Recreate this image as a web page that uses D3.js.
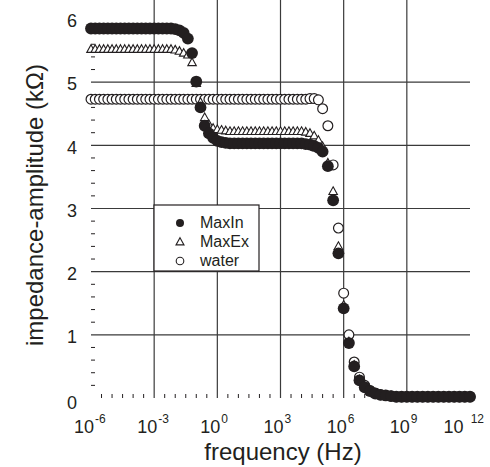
<!DOCTYPE html>
<html>
<head>
<meta charset="utf-8">
<script src="https://cdn.jsdelivr.net/npm/d3@7"></script>
<style>
  body { margin: 0; background: #fff; }
  text { font-family: "Liberation Sans", Arial, sans-serif; fill: #231f20; }
</style>
</head>
<body>
<div id="chart"></div>
<script>
// log10 of frequency (Hz) for every sample
var freqExp = [
  -6.0, -5.8, -5.6, -5.4, -5.2, -5.0, -4.8, -4.6, -4.4, -4.2,
  -4.0, -3.8, -3.6, -3.4, -3.2, -3.0, -2.8, -2.6, -2.4, -2.2,
  -2.0, -1.8, -1.6, -1.4, -1.2, -1.0, -0.8, -0.6, -0.4, -0.2,
   0.0,  0.2,  0.4,  0.6,  0.8,  1.0,  1.2,  1.4,  1.6,  1.8,
   2.0,  2.2,  2.4,  2.6,  2.8,  3.0,  3.2,  3.4,  3.6,  3.8,
   4.0,  4.2,  4.4,  4.6,  4.8,
   5.0,  5.25, 5.5,  5.75, 6.0,  6.25, 6.5,  6.75, 7.0,  7.25,
   7.5,  7.75, 8.0,  8.25, 8.5,  8.75, 9.0,  9.25, 9.5,  9.75,
  10.0, 10.25, 10.5, 10.75, 11.0, 11.25, 11.5, 11.75, 12.0
];

// impedance amplitude (kOhm)
var maxIn = [
  5.85, 5.85, 5.85, 5.85, 5.85, 5.85, 5.85, 5.85, 5.85, 5.85,
  5.85, 5.85, 5.85, 5.85, 5.85, 5.85, 5.85, 5.85, 5.85, 5.85,
  5.84, 5.82, 5.78, 5.69, 5.46, 5.01, 4.60, 4.31, 4.19, 4.12,
  4.07, 4.05, 4.04, 4.03, 4.03, 4.03, 4.03, 4.03, 4.03, 4.03,
  4.03, 4.03, 4.03, 4.03, 4.03, 4.03, 4.03, 4.03, 4.03, 4.03,
  4.03, 4.02, 4.01, 3.99, 3.96,
  3.90, 3.67, 3.13, 2.29, 1.42, 0.87, 0.50, 0.28, 0.17, 0.11,
  0.07, 0.05, 0.04, 0.03, 0.02, 0.02, 0.02, 0.02, 0.02, 0.02,
  0.02, 0.02, 0.02, 0.02, 0.02, 0.02, 0.02, 0.02, 0.02
];

var maxEx = [
  5.52, 5.52, 5.52, 5.52, 5.52, 5.52, 5.52, 5.52, 5.52, 5.52,
  5.52, 5.52, 5.52, 5.52, 5.52, 5.52, 5.52, 5.52, 5.52, 5.52,
  5.51, 5.49, 5.46, 5.43, 5.31, 4.98, 4.68, 4.44, 4.33, 4.27,
  4.25, 4.24, 4.23, 4.22, 4.22, 4.22, 4.22, 4.22, 4.22, 4.22,
  4.22, 4.22, 4.22, 4.22, 4.22, 4.22, 4.22, 4.22, 4.22, 4.22,
  4.22, 4.21, 4.19, 4.15, 4.08,
  3.98, 3.72, 3.27, 2.40, 1.47, 0.89, 0.52, 0.29, 0.18, 0.11,
  0.07, 0.05, 0.04, 0.03, 0.02, 0.02, 0.02, 0.02, 0.02, 0.02,
  0.02, 0.02, 0.02, 0.02, 0.02, 0.02, 0.02, 0.02, 0.02
];

var water = [
  4.73, 4.73, 4.73, 4.73, 4.73, 4.73, 4.73, 4.73, 4.73, 4.73,
  4.73, 4.73, 4.73, 4.73, 4.73, 4.73, 4.73, 4.73, 4.73, 4.73,
  4.73, 4.73, 4.73, 4.73, 4.73, 4.73, 4.73, 4.73, 4.73, 4.73,
  4.73, 4.73, 4.73, 4.73, 4.73, 4.73, 4.73, 4.73, 4.73, 4.73,
  4.73, 4.73, 4.73, 4.73, 4.73, 4.73, 4.73, 4.73, 4.73, 4.73,
  4.73, 4.73, 4.74, 4.74, 4.72,
  4.58, 4.31, 3.69, 2.69, 1.66, 1.00, 0.57, 0.33, 0.20, 0.12,
  0.08, 0.05, 0.04, 0.03, 0.02, 0.02, 0.02, 0.02, 0.02, 0.02,
  0.02, 0.02, 0.02, 0.02, 0.02, 0.02, 0.02, 0.02, 0.02
];

var seriesNames = ["MaxIn", "MaxEx", "water"];
var xTickExp = [-6, -3, 0, 3, 6, 9, 12];
var yTicks = [0, 1, 2, 3, 4, 5, 6];

var W = 490, H = 467;
var ink = "#231f20";

var svg = d3.select("#chart").append("svg")
    .attr("width", W)
    .attr("height", H);

var x = d3.scaleLog()
    .domain([1e-6, 1e12])
    .range([91, 470]);

var y = d3.scaleLinear()
    .domain([0, 6])
    .range([398, 19]);

var left = x.range()[0], right = x.range()[1],
    top = y.range()[1], bottom = y.range()[0];

// grid lines
svg.append("g").selectAll("line")
    .data(xTickExp.slice(1, -1))
    .enter().append("line")
      .attr("x1", function(d) { return x(Math.pow(10, d)); })
      .attr("x2", function(d) { return x(Math.pow(10, d)); })
      .attr("y1", top).attr("y2", bottom)
      .attr("stroke", "#3a3a3a").attr("stroke-width", 1.2);

svg.append("g").selectAll("line")
    .data(yTicks.slice(1, -1))
    .enter().append("line")
      .attr("x1", left).attr("x2", right)
      .attr("y1", function(d) { return y(d); })
      .attr("y2", function(d) { return y(d); })
      .attr("stroke", "#3a3a3a").attr("stroke-width", 1.2);

// minor ticks (inside the frame)
var xMinor = d3.range(-5.5, 12, 0.5).filter(function(e) { return e % 3 !== 0; });
svg.append("g").selectAll("line")
    .data(xMinor)
    .enter().append("line")
      .attr("x1", function(d) { return x(Math.pow(10, d)); })
      .attr("x2", function(d) { return x(Math.pow(10, d)); })
      .attr("y1", bottom).attr("y2", bottom - 4)
      .attr("stroke", ink).attr("stroke-width", 1);

var yMinor = d3.range(0.2, 6, 0.2).filter(function(v) { return Math.abs(v - Math.round(v)) > 0.01; });
svg.append("g").selectAll("line")
    .data(yMinor)
    .enter().append("line")
      .attr("x1", left).attr("x2", left + 4)
      .attr("y1", function(d) { return y(d); })
      .attr("y2", function(d) { return y(d); })
      .attr("stroke", ink).attr("stroke-width", 1);

// frame
svg.append("rect")
    .attr("x", left).attr("y", top)
    .attr("width", right - left).attr("height", bottom - top)
    .attr("fill", "none")
    .attr("stroke", ink).attr("stroke-width", 1.5);

// y tick labels
svg.append("g").selectAll("text")
    .data(yTicks)
    .enter().append("text")
      .attr("x", left - 14)
      .attr("y", function(d) { return y(d) + (d === 0 ? 5 : 2); })
      .attr("dy", "0.35em")
      .attr("text-anchor", "end")
      .style("font-size", "18px")
      .text(function(d) { return d; });

// x tick labels 10^n
var xLab = svg.append("g").selectAll("text")
    .data(xTickExp)
    .enter().append("text")
      .attr("y", 433)
      .style("font-size", "18px");

xLab.append("tspan").text("10");
xLab.append("tspan")
    .attr("dy", -10)
    .attr("dx", function(d) { return d >= 10 ? 7 : 1; })
    .style("font-size", "12px")
    .text(function(d) { return d; });

xLab.attr("x", function(d) {
  var px = x(Math.pow(10, d)) - 17;
  var w = this.getComputedTextLength() + (d >= 10 ? 7 : 1);
  return Math.min(px, W - 6 - w);
});

// axis titles
svg.append("text")
    .attr("x", 283)
    .attr("y", 460)
    .attr("text-anchor", "middle")
    .style("font-size", "24px")
    .text("frequency (Hz)");

svg.append("text")
    .attr("transform", "translate(43,205) rotate(-90)")
    .attr("text-anchor", "middle")
    .style("font-size", "24px")
    .text("impedance-amplitude (k\u03A9)");

// data
function rows(vals) {
  return vals.map(function(v, i) { return { f: Math.pow(10, freqExp[i]), v: v }; });
}

function triPath(s) {
  // s = side, roughly equilateral, centred on the point
  var h = s * 0.9;
  return "M0," + (-h * 0.6) + "L" + (s / 2) + "," + (h * 0.4) + "L" + (-s / 2) + "," + (h * 0.4) + "Z";
}

var plot = svg.append("g");

plot.selectAll("circle.water")
    .data(rows(water))
    .enter().append("circle")
      .attr("class", "water")
      .attr("cx", function(d) { return x(d.f); })
      .attr("cy", function(d) { return y(d.v); })
      .attr("r", 4.9)
      .attr("fill", "#fff")
      .attr("stroke", ink).attr("stroke-width", 1.2);

plot.selectAll("path.maxex")
    .data(rows(maxEx))
    .enter().append("path")
      .attr("class", "maxex")
      .attr("transform", function(d) { return "translate(" + x(d.f) + "," + y(d.v) + ")"; })
      .attr("d", triPath(8.5))
      .attr("fill", "#fff")
      .attr("stroke", ink).attr("stroke-width", 1.1);

plot.selectAll("circle.maxin")
    .data(rows(maxIn))
    .enter().append("circle")
      .attr("class", "maxin")
      .attr("cx", function(d) { return x(d.f); })
      .attr("cy", function(d) { return y(d.v); })
      .attr("r", 5.9)
      .attr("fill", ink);

// legend
var legend = svg.append("g").attr("transform", "translate(154,205)");

legend.append("rect")
    .attr("width", 105).attr("height", 66)
    .attr("fill", "#fff")
    .attr("stroke", ink).attr("stroke-width", 1.2);

var item = legend.selectAll("g.item")
    .data(seriesNames)
    .enter().append("g")
      .attr("class", "item")
      .attr("transform", function(d, i) { return "translate(0," + (18 + i * 19) + ")"; });

item.each(function(d, i) {
  var g = d3.select(this);
  if (i === 0) {
    g.append("circle").attr("cx", 26).attr("cy", 0).attr("r", 4).attr("fill", ink);
  } else if (i === 1) {
    g.append("path").attr("transform", "translate(26,0)").attr("d", triPath(8))
      .attr("fill", "#fff").attr("stroke", ink).attr("stroke-width", 1.1);
  } else {
    g.append("circle").attr("cx", 26).attr("cy", 0).attr("r", 3.8)
      .attr("fill", "#fff").attr("stroke", ink).attr("stroke-width", 1.1);
  }
});

item.append("text")
    .attr("x", 46)
    .attr("y", 5)
    .style("font-size", "16px")
    .text(function(d) { return d; });
</script>
</body>
</html>
